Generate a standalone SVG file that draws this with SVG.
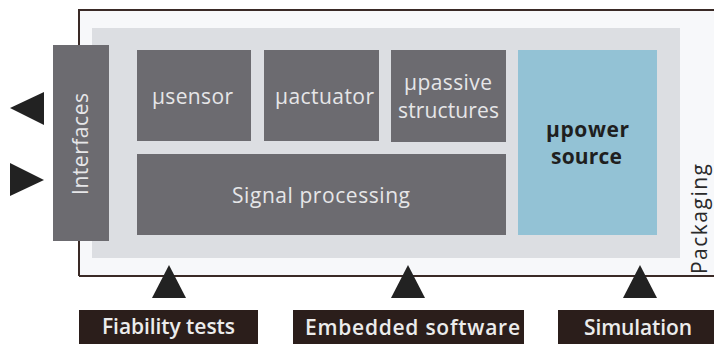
<svg xmlns="http://www.w3.org/2000/svg" width="714" height="344" viewBox="0 0 714 344">
<style>
text{font-family:"Open Sans","Liberation Sans",sans-serif;}
.mod{fill:#6c6b70;}
.lt{fill:#e6e6e8;font-size:21px;text-anchor:middle;}
.lab{fill:#2b1e1b;}
.lbt{fill:#ececec;font-size:21px;font-weight:600;text-anchor:middle;}
.arr{fill:#222222;}
</style>
<rect width="714" height="344" fill="#ffffff"/>
<g id="packaging">
<path d="M79,276 V10 H714" fill="none" stroke="#3a2a26" stroke-width="2"/>
<rect x="80" y="11" width="634" height="264" fill="#f7f8fa"/>
<path d="M79,276 H714" stroke="#3a2a26" stroke-width="2"/>
<rect x="92" y="28" width="588" height="230" fill="#dcdee2"/>
<text x="707" y="219" transform="rotate(-90 707 219)" font-size="21" fill="#2a2a2a" text-anchor="middle" textLength="110">Packaging</text>
</g>
<g id="interfaces">
<rect class="mod" x="53" y="45" width="56" height="196"/>
<text class="lt" x="88" y="144" transform="rotate(-90 88 144)" textLength="102">Interfaces</text>
</g>
<g id="usensor">
<rect class="mod" x="137" y="50" width="114" height="91"/>
<text class="lt" x="192.5" y="104" textLength="81">µsensor</text>
</g>
<g id="uactuator">
<rect class="mod" x="264" y="50" width="115" height="91"/>
<text class="lt" x="324.5" y="104" textLength="99">µactuator</text>
</g>
<g id="upassive">
<rect class="mod" x="391" y="50" width="115" height="92"/>
<text class="lt" x="448" y="90" textLength="88">µpassive</text>
<text class="lt" x="448.5" y="118" textLength="101">structures</text>
</g>
<g id="signal">
<rect class="mod" x="137" y="154" width="369" height="81"/>
<text class="lt" x="321" y="203" font-size="24" textLength="178">Signal processing</text>
</g>
<g id="upower">
<rect x="518" y="50" width="139" height="185" fill="#93c2d5"/>
<text x="587.5" y="137" font-size="21" font-weight="bold" fill="#1f1f1f" text-anchor="middle" textLength="83">µpower</text>
<text x="586.5" y="164" font-size="21" font-weight="bold" fill="#1f1f1f" text-anchor="middle" textLength="71">source</text>
</g>
<g id="connectors">
<polygon class="arr" points="10,108 44,92 44,125"/>
<polygon class="arr" points="10,163 44,180 10,196"/>
<polygon class="arr" points="169,265 152,298 186,298"/>
<polygon class="arr" points="408,265 391,298 425,298"/>
<polygon class="arr" points="640,265 623,298 657,298"/>
</g>
<g id="fiability">
<rect class="lab" x="79" y="310" width="179" height="34"/>
<text class="lbt" x="168.5" y="334" textLength="133">Fiability tests</text>
</g>
<g id="embedded">
<rect class="lab" x="293" y="310" width="231" height="34"/>
<text class="lbt" x="412.5" y="335" textLength="215">Embedded software</text>
</g>
<g id="simulation">
<rect class="lab" x="558" y="310" width="156" height="34"/>
<text class="lbt" x="638" y="335" textLength="108">Simulation</text>
</g>
</svg>
